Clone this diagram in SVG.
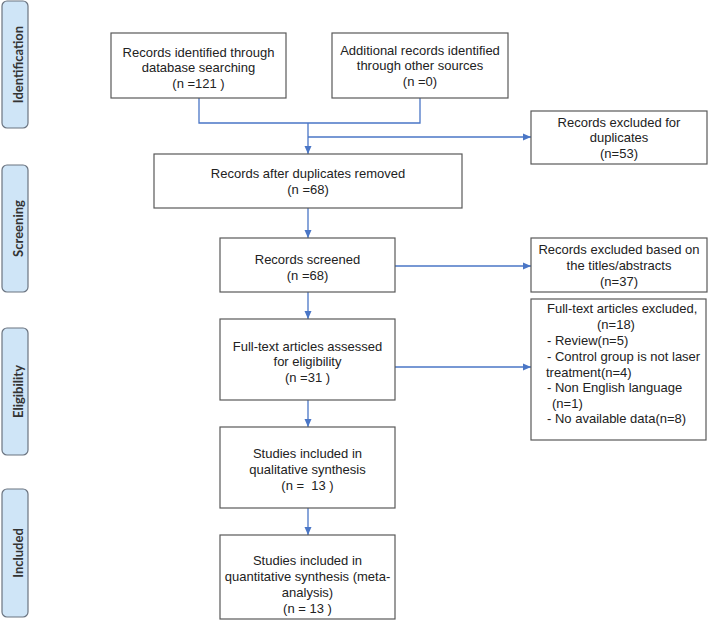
<svg xmlns="http://www.w3.org/2000/svg" width="708" height="622" viewBox="0 0 708 622">
<style>
.box{fill:#fff;stroke:#595959;stroke-width:1.2}
.phase{fill:#cfe5f7;stroke:#6b7480;stroke-width:1.2}
text{white-space:pre}
.t{font-family:"Liberation Sans",Arial,sans-serif;font-size:13px;fill:#222;text-anchor:middle}
.tl{font-family:"Liberation Sans",Arial,sans-serif;font-size:13px;fill:#222}
.pt{font-family:Lato,"Liberation Sans",sans-serif;font-weight:bold;font-size:13px;fill:#333;text-anchor:middle}
.c{fill:none;stroke:#4a76c6;stroke-width:1.3}
</style>
<defs>
<marker id="arr" markerUnits="userSpaceOnUse" markerWidth="9" markerHeight="8" refX="8" refY="4" orient="auto">
<path d="M0,0.5 L8,4 L0,7.5 Z" fill="#4a76c6"/>
</marker>
</defs>
<rect width="708" height="622" fill="#fff"/>
<g id="phase-identification"><rect class="phase" x="2" y="1" width="26" height="127" rx="5"/><text class="pt" transform="translate(23,64.5) rotate(-90)">Identification</text></g>
<g id="phase-screening"><rect class="phase" x="2" y="165" width="26" height="127" rx="5"/><text class="pt" transform="translate(23,228.5) rotate(-90)">Screening</text></g>
<g id="phase-eligibility"><rect class="phase" x="2" y="328" width="26" height="127" rx="5"/><text class="pt" transform="translate(23,391.5) rotate(-90)">Eligibility</text></g>
<g id="phase-included"><rect class="phase" x="2" y="489" width="26" height="128" rx="5"/><text class="pt" transform="translate(23,553) rotate(-90)">Included</text></g>

<g id="connectors">
<path class="c" d="M199,98 V123 H420 V98"/>
<path class="c" d="M308,123 V154" marker-end="url(#arr)"/>
<path class="c" d="M308,137 H531" marker-end="url(#arr)"/>
<path class="c" d="M308,208 V238" marker-end="url(#arr)"/>
<path class="c" d="M395,266 H531" marker-end="url(#arr)"/>
<path class="c" d="M308,292 V319" marker-end="url(#arr)"/>
<path class="c" d="M395,367 H531" marker-end="url(#arr)"/>
<path class="c" d="M308,400 V427" marker-end="url(#arr)"/>
<path class="c" d="M308,508 V535" marker-end="url(#arr)"/>
</g>

<g id="db-search"><rect class="box" x="111" y="33" width="175" height="65"/>
<text class="t" x="198.5" y="56.5">Records identified through</text>
<text class="t" x="198.5" y="71.5">database searching</text>
<text class="t" x="198.5" y="87.5">(n =121 )</text></g>

<g id="other-sources"><rect class="box" x="332" y="33" width="176" height="65"/>
<text class="t" x="420" y="54.5">Additional records identified</text>
<text class="t" x="420" y="69.5">through other sources</text>
<text class="t" x="420" y="85.5">(n =0)</text></g>

<g id="excluded-duplicates"><rect class="box" x="531" y="111" width="176" height="53"/>
<text class="t" x="619" y="126.5">Records excluded for</text>
<text class="t" x="619" y="141.5">duplicates</text>
<text class="t" x="619" y="158">(n=53)</text></g>

<g id="after-duplicates"><rect class="box" x="154" y="154" width="308" height="54"/>
<text class="t" x="308" y="177.5">Records after duplicates removed</text>
<text class="t" x="308" y="194">(n =68)</text></g>

<g id="screened"><rect class="box" x="220" y="238" width="175" height="54"/>
<text class="t" x="307.5" y="263.5">Records screened</text>
<text class="t" x="307.5" y="279.5">(n =68)</text></g>

<g id="excluded-titles"><rect class="box" x="531" y="238" width="176" height="54"/>
<text class="t" x="619" y="253.5">Records excluded based on</text>
<text class="t" x="619" y="269.5">the titles/abstracts</text>
<text class="t" x="619" y="285.5">(n=37)</text></g>

<g id="full-text"><rect class="box" x="220" y="319" width="175" height="81"/>
<text class="t" x="307.5" y="350.5">Full-text articles assessed</text>
<text class="t" x="307.5" y="365.5">for eligibility</text>
<text class="t" x="307.5" y="381.5">(n =31 )</text></g>

<g id="excluded-full-text"><rect class="box" x="531" y="299" width="175" height="141"/>
<text class="tl" x="547" y="312.5">Full-text articles excluded,</text>
<text class="tl" x="597" y="328.5">(n=18)</text>
<text class="tl" x="547" y="344.5">- Review(n=5)</text>
<text class="tl" x="547" y="360.5">- Control group is not laser</text>
<text class="tl" x="546" y="376.5">treatment(n=4)</text>
<text class="tl" x="547" y="391.5">- Non English language</text>
<text class="tl" x="552" y="407.5">(n=1)</text>
<text class="tl" x="547" y="422.5">- No available data(n=8)</text></g>

<g id="qualitative"><rect class="box" x="220" y="427" width="175" height="81"/>
<text class="t" x="307.5" y="457.5">Studies included in</text>
<text class="t" x="307.5" y="473.5">qualitative synthesis</text>
<text class="t" x="307.5" y="489.5">(n =  13 )</text></g>

<g id="quantitative"><rect class="box" x="220" y="535" width="175" height="84"/>
<text class="t" x="307.5" y="564.5">Studies included in</text>
<text class="t" x="307.5" y="580.5">quantitative synthesis (meta-</text>
<text class="t" x="307.5" y="596.5">analysis)</text>
<text class="t" x="307.5" y="612.5">(n = 13 )</text></g>
</svg>
